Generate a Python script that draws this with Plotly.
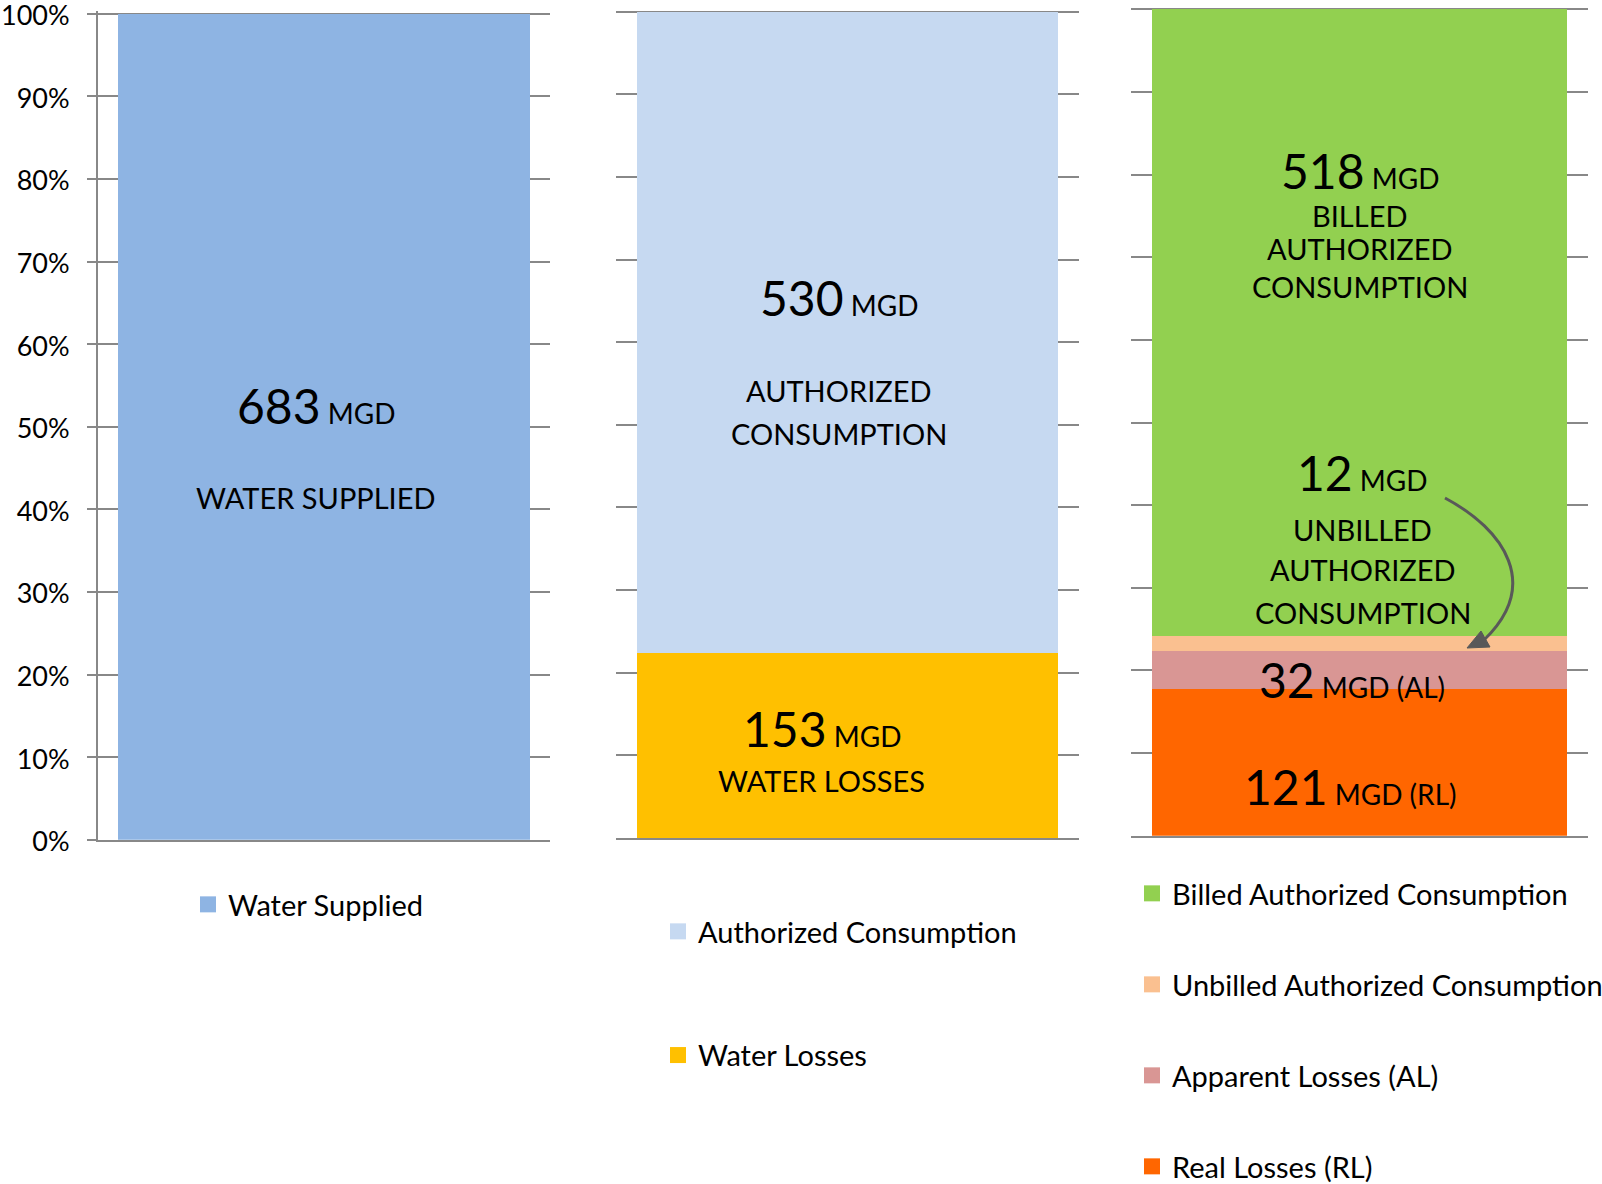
import plotly.graph_objects as go

# Water balance values (MGD)
supplied_names = ['Water Supplied']
supplied_values = [683]
supplied_colors = ['#8EB4E3']

split_names = ['Water Losses', 'Authorized Consumption']
split_values = [153, 530]
split_colors = ['#FFC000', '#C6D9F1']

detail_names = ['Real Losses (RL)', 'Apparent Losses (AL)',
                'Unbilled Authorized Consumption', 'Billed Authorized Consumption']
detail_values = [121, 32, 12, 518]
detail_colors = ['#FF6600', '#D99694', '#FAC090', '#92D050']

panel_categories = ['supplied', 'split', 'detail']
tick_values = [0, 10, 20, 30, 40, 50, 60, 70, 80, 90, 100]
tick_labels = [f'{v}%' for v in tick_values]

W, H = 1602, 1184
FONT = 'Lato, Arial, sans-serif'
GRID = '#888888'
Y_TOP = 100.3  # a little headroom so the 100% gridline is drawn


def px_x(px):
    return px / W


def px_y(py):
    return 1 - py / H


def y_domain(zero_px, hundred_px):
    top = zero_px - (zero_px - hundred_px) * Y_TOP / 100
    return [px_y(zero_px), px_y(top)]


fig = go.Figure()

# one stacked bar per panel, each panel with its own legend
panels = [
    (supplied_names, supplied_values, supplied_colors, 'x', 'y', 'legend'),
    (split_names, split_values, split_colors, 'x2', 'y2', 'legend2'),
    (detail_names, detail_values, detail_colors, 'x3', 'y3', 'legend3'),
]
for cat, (names, values, colors, xa, ya, leg) in zip(panel_categories, panels):
    n = len(names)
    for i, (name, val, col) in enumerate(zip(names, values, colors)):
        fig.add_trace(go.Bar(
            x=[cat], y=[val], name=name,
            marker=dict(color=col, line=dict(width=0)),
            xaxis=xa, yaxis=ya, showlegend=False,
            hoverinfo='name+y'
        ))
        # legend-only entry so the colour square is bigger than the bar glyph
        fig.add_trace(go.Scatter(
            x=[None], y=[None], mode='markers', name=name,
            marker=dict(symbol='square', size=16, color=col),
            xaxis=xa, yaxis=ya, legend=leg, legendgroup=name,
            legendrank=n - i, showlegend=True
        ))


def label(x_cat, xref, yref, y, big, small, xshift=0):
    # number in a large font followed by the unit in a smaller one
    return dict(
        x=x_cat, y=y, xref=xref, yref=yref, xshift=xshift,
        text=f'<span style="font-size:48px">{big}</span> {small}',
        showarrow=False, font=dict(size=28, color='black', family=FONT)
    )


def caption(x_cat, xref, yref, y, text, xshift=0):
    return dict(
        x=x_cat, y=y, xref=xref, yref=yref, xshift=xshift,
        text=text, showarrow=False,
        font=dict(size=29, color='black', family=FONT)
    )


annotations = [
    label('supplied', 'x', 'y', 52.6, '683', 'MGD', -8),
    caption('supplied', 'x', 'y', 41.4, 'WATER SUPPLIED', -8),

    label('split', 'x2', 'y2', 65.4, '530', 'MGD', -9),
    caption('split', 'x2', 'y2', 54.2, 'AUTHORIZED', -9),
    caption('split', 'x2', 'y2', 48.9, 'CONSUMPTION', -9),
    label('split', 'x2', 'y2', 13.3, '153', 'MGD', -26),
    caption('split', 'x2', 'y2', 6.9, 'WATER LOSSES', -26),

    label('detail', 'x3', 'y3', 80.5, '518', 'MGD', 0),
    caption('detail', 'x3', 'y3', 75.1, 'BILLED', 0),
    caption('detail', 'x3', 'y3', 71.0, 'AUTHORIZED', 0),
    caption('detail', 'x3', 'y3', 66.5, 'CONSUMPTION', 0),
    label('detail', 'x3', 'y3', 44.0, '12', 'MGD', 3),
    caption('detail', 'x3', 'y3', 37.1, 'UNBILLED', 3),
    caption('detail', 'x3', 'y3', 32.2, 'AUTHORIZED', 3),
    caption('detail', 'x3', 'y3', 27.0, 'CONSUMPTION', 3),
    label('detail', 'x3', 'y3', 18.9, '32', 'MGD (AL)', -8),
    label('detail', 'x3', 'y3', 5.96, '121', 'MGD (RL)', -9),
]

# curved arrow from the "12 MGD" label down to the unbilled slice
curve = 'M{},{} C{},{} {},{} {},{}'.format(
    px_x(1445), px_y(498), px_x(1505), px_y(530),
    px_x(1541), px_y(585), px_x(1484), px_y(640))
head = 'M{},{} L{},{} L{},{} Z'.format(
    px_x(1467), px_y(648), px_x(1490), px_y(647), px_x(1481), px_y(631))
shapes = [
    dict(type='path', path=curve, xref='paper', yref='paper',
         line=dict(color='#595959', width=3)),
    dict(type='path', path=head, xref='paper', yref='paper',
         fillcolor='#595959', line=dict(color='#595959', width=1)),
]

yaxis_common = dict(
    range=[0, Y_TOP], tickmode='array', tickvals=tick_values,
    ticktext=tick_labels, showgrid=True,
    gridcolor=GRID, gridwidth=2, zeroline=False, fixedrange=True
)
xaxis_common = dict(
    showticklabels=False, showgrid=False, zeroline=False,
    showline=True, linecolor=GRID, linewidth=2, ticks='', fixedrange=True
)

legend_common = dict(
    font=dict(size=29, color='black', family=FONT),
    bgcolor='rgba(0,0,0,0)', xanchor='left', yanchor='top',
    traceorder='grouped', orientation='v', itemsizing='trace'
)

fig.update_layout(
    width=W, height=H,
    margin=dict(l=0, r=0, t=0, b=0, autoexpand=False),
    paper_bgcolor='white', plot_bgcolor='white',
    barmode='stack', barnorm='percent', bargap=0.09,
    font=dict(family=FONT, color='black'),
    showlegend=True,
    xaxis=dict(domain=[px_x(98), px_x(550)], anchor='y', **xaxis_common),
    xaxis2=dict(domain=[px_x(616), px_x(1079)], anchor='y2', **xaxis_common),
    xaxis3=dict(domain=[px_x(1131), px_x(1588)], anchor='y3', **xaxis_common),
    yaxis=dict(domain=y_domain(839.7, 13.7), anchor='x',
               showline=True, linecolor=GRID, linewidth=2,
               ticks='outside', ticklen=9, tickwidth=2, tickcolor=GRID,
               ticklabelstandoff=12, ticklabeloverflow='allow',
               ticklabelshift=2,
               tickfont=dict(size=27, color='black', family=FONT),
               **yaxis_common),
    yaxis2=dict(domain=y_domain(838, 11.7), anchor='x2',
                showticklabels=False, **yaxis_common),
    yaxis3=dict(domain=y_domain(835.7, 9.3), anchor='x3',
                showticklabels=False, **yaxis_common),
    legend=dict(x=px_x(188), y=px_y(879), **legend_common),
    legend2=dict(x=px_x(658), y=px_y(906), tracegroupgap=83, **legend_common),
    legend3=dict(x=px_x(1132), y=px_y(868), tracegroupgap=50.3, **legend_common),
    annotations=annotations,
    shapes=shapes,
)

# drop the browser's default body margin so the figure fills the window
fig.write_html('out.html', config={'displayModeBar': False},
               post_script="document.body.style.margin = '0';")
